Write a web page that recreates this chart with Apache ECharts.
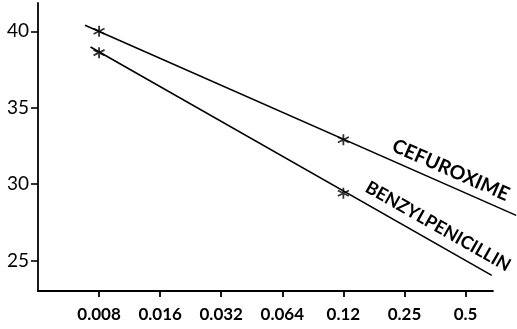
<!DOCTYPE html>
<html><head><meta charset="utf-8">
<script src="https://cdn.jsdelivr.net/npm/echarts@6/dist/echarts.min.js"></script>
<style>html,body{margin:0;padding:0;background:#fff}#c{width:517px;height:329px}</style>
</head><body><div id="c"></div>
<script>
// x positions are log2 steps: index 0 = 0.008 ... index 6 = 0.5
const xTickLabels = ['0.008','0.016','0.032','0.064','0.12','0.25','0.5'];
const yTicks = [25, 30, 35, 40];
const markedIndex = [0, 4];              // 0.008 and 0.12
const cefuroximeMarked = [40.0, 32.9];
const benzylMarked = [38.6, 29.4];
// drawn line extents [index, value]
const cefuroximeLine = [[-0.23, 40.4], [6.83, 27.95]];
const benzylLine = [[-0.14, 38.97], [6.43, 24.02]];
const seriesNames = ['CEFUROXIME', 'BENZYLPENICILLIN'];

const star = 'path://M0,-10L0,10M-8.66,-5L8.66,5M-8.66,5L8.66,-5';
const font = 'Lato';
const chart = echarts.init(document.getElementById('c'));
const lineStyle = {color:'#000', width:1.6};
function pts(vals){ return markedIndex.map((x,i)=>[x, vals[i]]); }

// grid 0 carries the visible axes; grid 1 (same scale, wider) carries the data
const W = 517, L = 38, R0 = 24;
const xMin = -1, xMax0 = 6.45;
const pxPerUnit = (W - L - R0) / (xMax0 - xMin);
const xMax1 = xMin + (W - L) / pxPerUnit;
const yMin = 23, yMax = 41.85;

chart.setOption({
  animation:false,
  grid:[{left:L, right:R0, top:3, bottom:38},{left:L, right:0, top:3, bottom:38}],
  xAxis:[{gridIndex:0, type:'value', min:xMin, max:xMax0,
    axisLine:{onZero:false, lineStyle:{color:'#000', width:1.8}},
    axisTick:{customValues:[0,1,2,3,4,5,6], length:6, lineStyle:{color:'#000', width:1.8}},
    axisLabel:{customValues:[0,1,2,3,4,5,6], formatter:v=>xTickLabels[Math.round(v)]||'', color:'#000',
      fontFamily:font, fontWeight:'bold', fontSize:17, margin:15},
    splitLine:{show:false}},
    {gridIndex:1, type:'value', min:xMin, max:xMax1, show:false}],
  yAxis:[{gridIndex:0, type:'value', min:yMin, max:yMax,
    axisLine:{show:true, onZero:false, lineStyle:{color:'#000', width:1.8}},
    axisTick:{show:true, customValues:yTicks, length:7, lineStyle:{color:'#000', width:1.6}},
    axisLabel:{customValues:yTicks, color:'#000', fontFamily:font, fontSize:19, margin:9},
    splitLine:{show:false}},
    {gridIndex:1, type:'value', min:yMin, max:yMax, show:false}],
  series:[
    {type:'line', xAxisIndex:1, yAxisIndex:1, data:cefuroximeLine, symbol:'none', lineStyle},
    {type:'line', xAxisIndex:1, yAxisIndex:1, data:benzylLine, symbol:'none', lineStyle},
    {type:'scatter', xAxisIndex:1, yAxisIndex:1, data:pts(cefuroximeMarked), symbol:star, symbolSize:11,
      itemStyle:{color:'none', borderColor:'#000', borderWidth:1.8}},
    {type:'scatter', xAxisIndex:1, yAxisIndex:1, data:pts(benzylMarked), symbol:star, symbolSize:11,
      itemStyle:{color:'none', borderColor:'#000', borderWidth:1.8}}
  ]
});

function labelFor(name, line, t, offset, size){
  const f = {xAxisIndex:1, yAxisIndex:1};
  const a = chart.convertToPixel(f, line[0]);
  const b = chart.convertToPixel(f, line[1]);
  const p0 = chart.convertToPixel(f, [t, line[0][1] + (line[1][1]-line[0][1])*(t-line[0][0])/(line[1][0]-line[0][0])]);
  const ang = Math.atan2(b[1]-a[1], b[0]-a[0]);
  const nx = Math.sin(ang), ny = -Math.cos(ang);
  return {type:'text', x:p0[0]+nx*offset, y:p0[1]+ny*offset, rotation:-ang,
    style:{text:name, fill:'#000', font:'bold '+size+'px '+font, align:'center', verticalAlign:'middle'}};
}
chart.setOption({graphic:[
  labelFor(seriesNames[0], cefuroximeLine, 5.66, 15, 19.5),
  labelFor(seriesNames[1], benzylLine, 5.42, 16, 18)
]});
</script></body></html>
